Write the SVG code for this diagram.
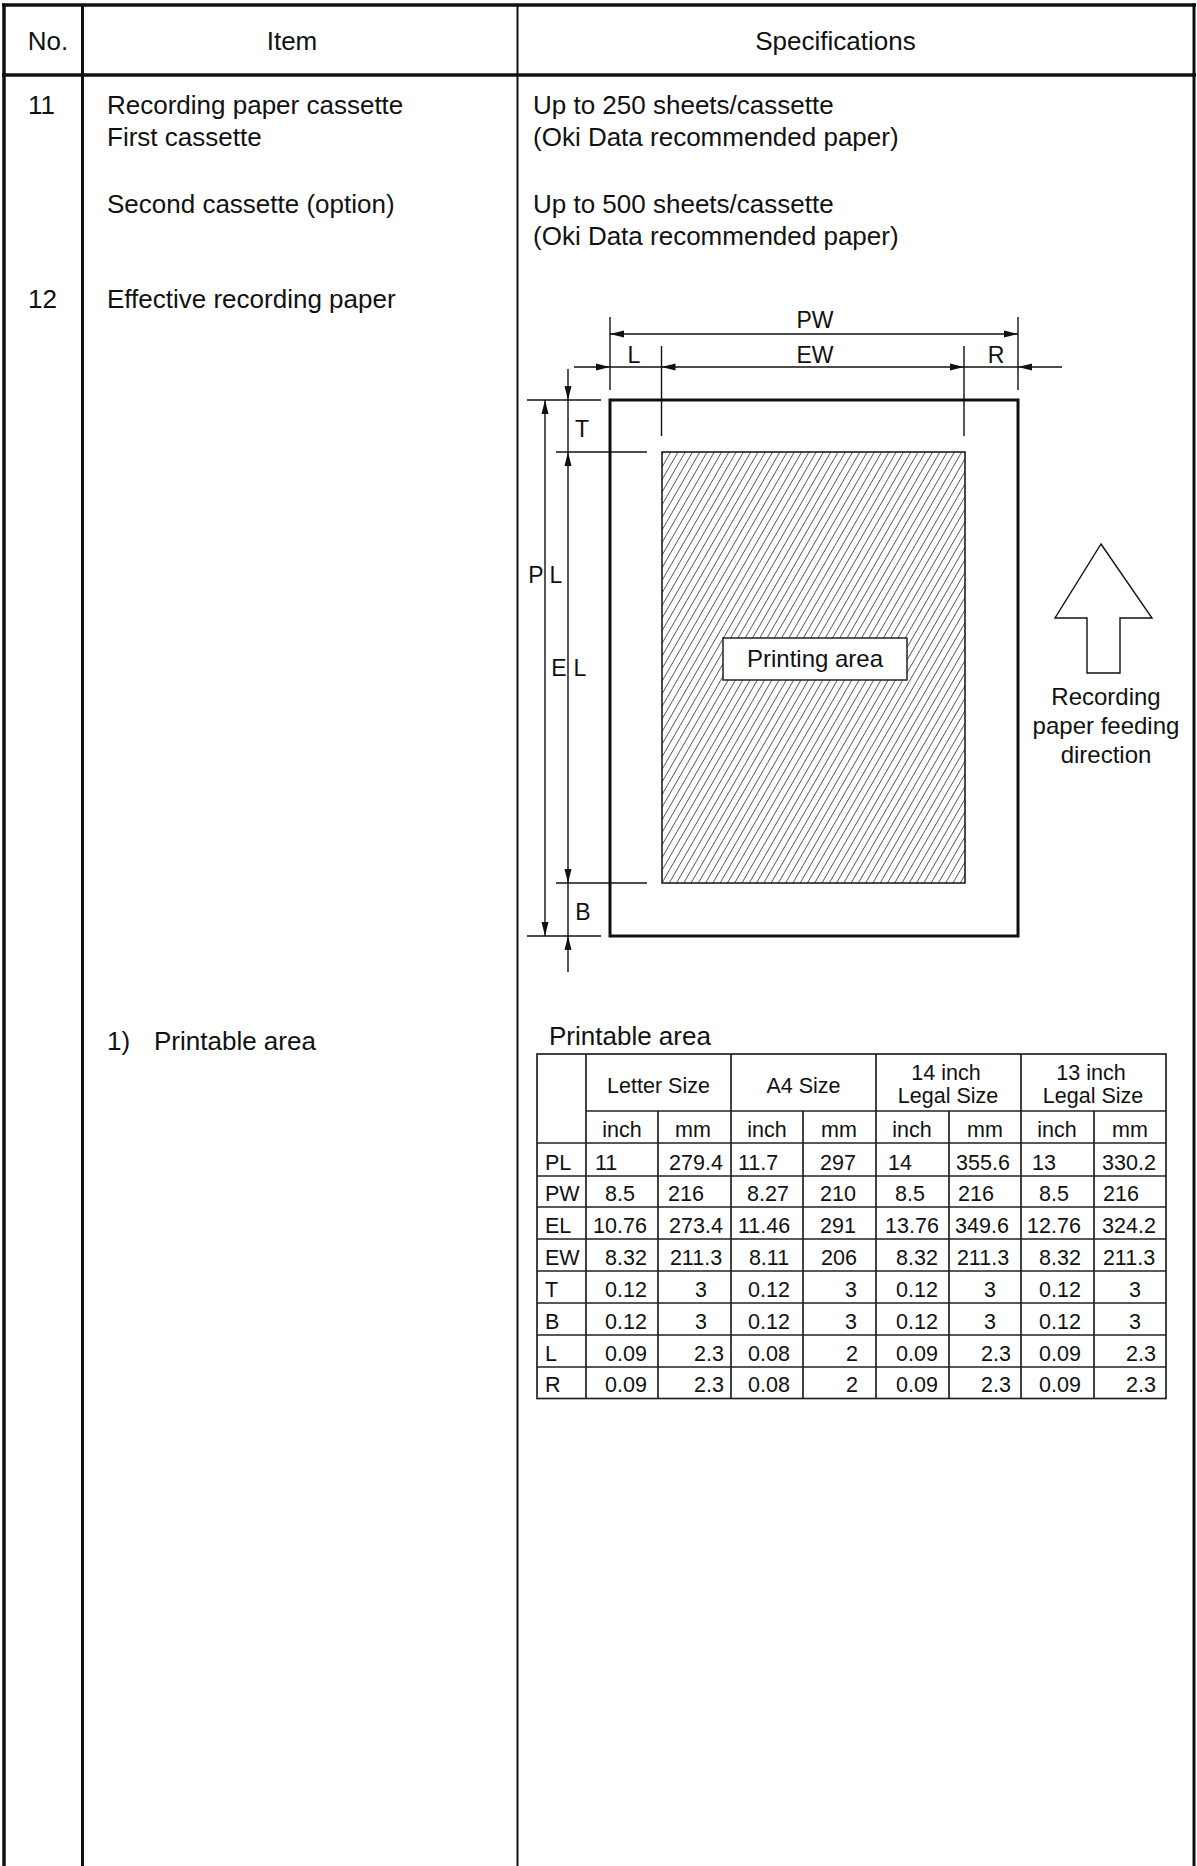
<svg xmlns="http://www.w3.org/2000/svg" xmlns:xlink="http://www.w3.org/1999/xlink" width="1197" height="1866" viewBox="0 0 1197 1866">
<style>
text{font-family:"Liberation Sans",Arial,sans-serif;fill:#111}
.b{font-size:26px}
.h{font-size:26px}
.d{font-size:23px}
.t{font-size:21.5px}
.m{text-anchor:middle}
.e{text-anchor:end}
.frame{stroke:#111;fill:none}
.dim{stroke:#111;stroke-width:1.4;fill:none}
.grid{stroke:#222;stroke-width:1.7;fill:none}
</style>
<defs>
<path id="ah" d="M0,0 L-14,-3.5 L-14,3.5 Z" fill="#111"/>
<pattern id="hatch" patternUnits="userSpaceOnUse" width="6.3" height="20" patternTransform="rotate(30)">
<line x1="0" y1="-2" x2="0" y2="22" stroke="#111" stroke-width="1.25"/>
</pattern>
</defs>
<rect width="1197" height="1866" fill="#fff"/>

<g id="frame">
<line class="frame" x1="4" y1="3.5" x2="4" y2="1866" stroke-width="3.5"/>
<line class="frame" x1="1194" y1="3.5" x2="1194" y2="1866" stroke-width="3"/>
<line class="frame" x1="2" y1="5" x2="1196" y2="5" stroke-width="3.5"/>
<line class="frame" x1="2" y1="75" x2="1196" y2="75" stroke-width="3.5"/>
<line class="frame" x1="82.5" y1="5" x2="82.5" y2="1866" stroke-width="3"/>
<line class="frame" x1="517.5" y1="5" x2="517.5" y2="1866" stroke-width="2"/>
</g>

<g id="header">
<text class="h m" x="48" y="50">No.</text>
<text class="h m" x="292" y="50">Item</text>
<text class="h m" x="835.5" y="50">Specifications</text>
</g>

<g id="row11">
<text class="b" x="28" y="114">11</text>
<text class="b" x="107" y="114">Recording paper cassette</text>
<text class="b" x="107" y="146">First cassette</text>
<text class="b" x="107" y="213">Second cassette (option)</text>
<text class="b" x="533" y="114">Up to 250 sheets/cassette</text>
<text class="b" x="533" y="146">(Oki Data recommended paper)</text>
<text class="b" x="533" y="213">Up to 500 sheets/cassette</text>
<text class="b" x="533" y="245">(Oki Data recommended paper)</text>
</g>

<g id="row12">
<text class="b" x="28" y="308">12</text>
<text class="b" x="107" y="308">Effective recording paper</text>
<text class="b" x="107" y="1050">1)</text>
<text class="b" x="154" y="1050">Printable area</text>
</g>

<g id="paper">
<rect x="610" y="400" width="408" height="536" fill="#fff" stroke="#111" stroke-width="3"/>
</g>
<g id="printing-area">
<rect x="662" y="452" width="303" height="431" fill="url(#hatch)" stroke="#111" stroke-width="1.5"/>
<rect x="723" y="638" width="184" height="42" fill="#fff" stroke="#222" stroke-width="1.5"/>
<text class="m" x="815" y="667" style="font-size:24px">Printing area</text>
</g>

<g id="feed-arrow">
<polygon points="1101,544 1152,618 1120,618 1120,673 1087,673 1087,618 1055,618" fill="#fff" stroke="#111" stroke-width="1.4"/>
<text class="m" x="1106" y="705" style="font-size:24px">Recording</text>
<text class="m" x="1106" y="734" style="font-size:24px">paper feeding</text>
<text class="m" x="1106" y="763" style="font-size:24px">direction</text>
</g>

<g id="connectors">
<line class="dim" x1="610" y1="317" x2="610" y2="390"/>
<line class="dim" x1="1018" y1="317" x2="1018" y2="390"/>
<line class="dim" x1="661.5" y1="346" x2="661.5" y2="436"/>
<line class="dim" x1="964" y1="346" x2="964" y2="436"/>
<line class="dim" x1="610" y1="334" x2="1018" y2="334"/>
<use xlink:href="#ah" transform="translate(610,334) rotate(180)"/>
<use xlink:href="#ah" transform="translate(1018,334)"/>
<line class="dim" x1="574" y1="367" x2="1062" y2="367"/>
<use xlink:href="#ah" transform="translate(610,367)"/>
<use xlink:href="#ah" transform="translate(661.5,367) rotate(180)"/>
<use xlink:href="#ah" transform="translate(964,367)"/>
<use xlink:href="#ah" transform="translate(1018,367) rotate(180)"/>
<line class="dim" x1="527" y1="400" x2="601" y2="400"/>
<line class="dim" x1="556" y1="452" x2="647" y2="452"/>
<line class="dim" x1="556" y1="883" x2="647" y2="883"/>
<line class="dim" x1="527" y1="936" x2="601" y2="936"/>
<line class="dim" x1="545" y1="400" x2="545" y2="936"/>
<use xlink:href="#ah" transform="translate(545,400) rotate(-90)"/>
<use xlink:href="#ah" transform="translate(545,936) rotate(90)"/>
<line class="dim" x1="568" y1="369" x2="568" y2="972"/>
<use xlink:href="#ah" transform="translate(568,400) rotate(90)"/>
<use xlink:href="#ah" transform="translate(568,452) rotate(-90)"/>
<use xlink:href="#ah" transform="translate(568,883) rotate(90)"/>
<use xlink:href="#ah" transform="translate(568,936) rotate(-90)"/>
</g>

<g id="dim-labels">
<text class="d m" x="815" y="328">PW</text>
<text class="d m" x="634" y="363">L</text>
<text class="d m" x="815" y="363">EW</text>
<text class="d m" x="996" y="363">R</text>
<text class="d m" x="582" y="437">T</text>
<text class="d m" x="536" y="583">P</text>
<text class="d m" x="556" y="583">L</text>
<text class="d m" x="559" y="676">E</text>
<text class="d m" x="580" y="676">L</text>
<text class="d m" x="583" y="920">B</text>
</g>

<g id="printable-table">
<text class="b" x="549" y="1045">Printable area</text>
<rect class="grid" x="537" y="1054" width="629" height="344.5"/>
<line class="grid" x1="586" y1="1111" x2="1166" y2="1111"/>
<line class="grid" x1="537" y1="1143" x2="1166" y2="1143"/>
<line class="grid" x1="537" y1="1176" x2="1166" y2="1176"/>
<line class="grid" x1="537" y1="1207" x2="1166" y2="1207"/>
<line class="grid" x1="537" y1="1239" x2="1166" y2="1239"/>
<line class="grid" x1="537" y1="1271" x2="1166" y2="1271"/>
<line class="grid" x1="537" y1="1303" x2="1166" y2="1303"/>
<line class="grid" x1="537" y1="1335" x2="1166" y2="1335"/>
<line class="grid" x1="537" y1="1367" x2="1166" y2="1367"/>
<line class="grid" x1="586" y1="1054" x2="586" y2="1398.5"/>
<line class="grid" x1="731" y1="1054" x2="731" y2="1398.5"/>
<line class="grid" x1="876" y1="1054" x2="876" y2="1398.5"/>
<line class="grid" x1="1021" y1="1054" x2="1021" y2="1398.5"/>
<line class="grid" x1="658" y1="1111" x2="658" y2="1398.5"/>
<line class="grid" x1="803" y1="1111" x2="803" y2="1398.5"/>
<line class="grid" x1="949" y1="1111" x2="949" y2="1398.5"/>
<line class="grid" x1="1094" y1="1111" x2="1094" y2="1398.5"/>

<text class="t m" x="658.5" y="1093">Letter Size</text>
<text class="t m" x="803.5" y="1093">A4 Size</text>
<text class="t m" x="946" y="1080">14 inch</text>
<text class="t m" x="948" y="1103">Legal Size</text>
<text class="t m" x="1091" y="1080">13 inch</text>
<text class="t m" x="1093" y="1103">Legal Size</text>

<text class="t m" x="622" y="1137">inch</text>
<text class="t m" x="693" y="1137">mm</text>
<text class="t m" x="767" y="1137">inch</text>
<text class="t m" x="839" y="1137">mm</text>
<text class="t m" x="912" y="1137">inch</text>
<text class="t m" x="985" y="1137">mm</text>
<text class="t m" x="1057" y="1137">inch</text>
<text class="t m" x="1130" y="1137">mm</text>

<text class="t" x="545" y="1170">PL</text>
<text class="t" x="595" y="1170">11</text>
<text class="t m" x="696" y="1170">279.4</text>
<text class="t" x="738" y="1170">11.7</text>
<text class="t m" x="838" y="1170">297</text>
<text class="t" x="888" y="1170">14</text>
<text class="t m" x="983" y="1170">355.6</text>
<text class="t" x="1032" y="1170">13</text>
<text class="t m" x="1129" y="1170">330.2</text>

<text class="t" x="545" y="1201">PW</text>
<text class="t m" x="620" y="1201">8.5</text>
<text class="t" x="668" y="1201">216</text>
<text class="t m" x="768" y="1201">8.27</text>
<text class="t m" x="838" y="1201">210</text>
<text class="t m" x="910" y="1201">8.5</text>
<text class="t" x="958" y="1201">216</text>
<text class="t m" x="1054" y="1201">8.5</text>
<text class="t" x="1103" y="1201">216</text>

<text class="t" x="545" y="1233">EL</text>
<text class="t m" x="620" y="1233">10.76</text>
<text class="t m" x="696" y="1233">273.4</text>
<text class="t m" x="764" y="1233">11.46</text>
<text class="t m" x="838" y="1233">291</text>
<text class="t m" x="912" y="1233">13.76</text>
<text class="t m" x="982" y="1233">349.6</text>
<text class="t m" x="1054" y="1233">12.76</text>
<text class="t m" x="1129" y="1233">324.2</text>

<text class="t" x="545" y="1265">EW</text>
<text class="t m" x="626" y="1265">8.32</text>
<text class="t m" x="696" y="1265">211.3</text>
<text class="t m" x="769" y="1265">8.11</text>
<text class="t m" x="839" y="1265">206</text>
<text class="t m" x="917" y="1265">8.32</text>
<text class="t m" x="983" y="1265">211.3</text>
<text class="t m" x="1060" y="1265">8.32</text>
<text class="t m" x="1129" y="1265">211.3</text>

<text class="t" x="545" y="1297">T</text>
<text class="t m" x="626" y="1297">0.12</text>
<text class="t m" x="701" y="1297">3</text>
<text class="t m" x="769" y="1297">0.12</text>
<text class="t m" x="851" y="1297">3</text>
<text class="t m" x="917" y="1297">0.12</text>
<text class="t m" x="990" y="1297">3</text>
<text class="t m" x="1060" y="1297">0.12</text>
<text class="t m" x="1135" y="1297">3</text>

<text class="t" x="545" y="1329">B</text>
<text class="t m" x="626" y="1329">0.12</text>
<text class="t m" x="701" y="1329">3</text>
<text class="t m" x="769" y="1329">0.12</text>
<text class="t m" x="851" y="1329">3</text>
<text class="t m" x="917" y="1329">0.12</text>
<text class="t m" x="990" y="1329">3</text>
<text class="t m" x="1060" y="1329">0.12</text>
<text class="t m" x="1135" y="1329">3</text>

<text class="t" x="545" y="1361">L</text>
<text class="t m" x="626" y="1361">0.09</text>
<text class="t e" x="724" y="1361">2.3</text>
<text class="t m" x="769" y="1361">0.08</text>
<text class="t e" x="858" y="1361">2</text>
<text class="t m" x="917" y="1361">0.09</text>
<text class="t e" x="1011" y="1361">2.3</text>
<text class="t m" x="1060" y="1361">0.09</text>
<text class="t e" x="1156" y="1361">2.3</text>

<text class="t" x="545" y="1392">R</text>
<text class="t m" x="626" y="1392">0.09</text>
<text class="t e" x="724" y="1392">2.3</text>
<text class="t m" x="769" y="1392">0.08</text>
<text class="t e" x="858" y="1392">2</text>
<text class="t m" x="917" y="1392">0.09</text>
<text class="t e" x="1011" y="1392">2.3</text>
<text class="t m" x="1060" y="1392">0.09</text>
<text class="t e" x="1156" y="1392">2.3</text>
</g>
</svg>
